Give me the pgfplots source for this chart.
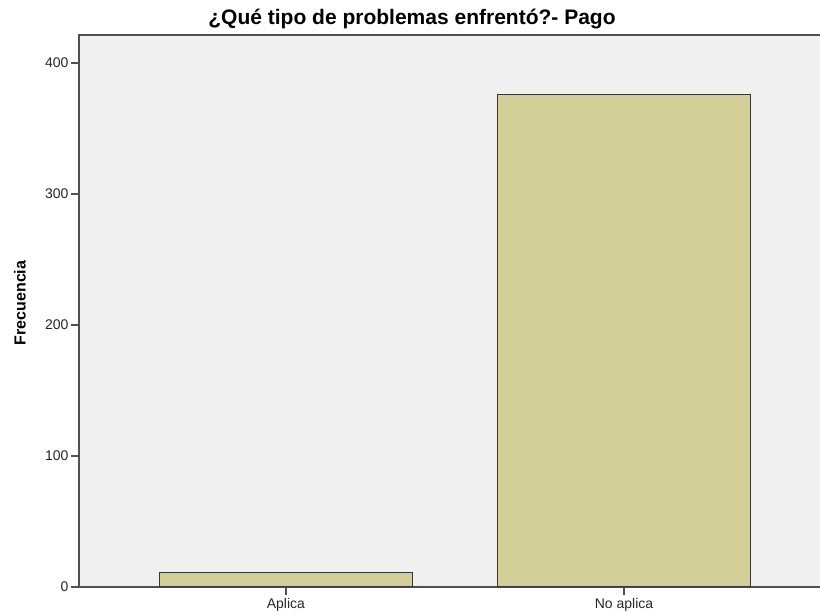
\documentclass[border=0pt]{standalone}
\usepackage{pgfplots}
\pgfplotsset{compat=1.18}
\usepackage{fontspec}
\setmainfont{Liberation Sans}
\definecolor{plotbg}{HTML}{F0F0F0}
\definecolor{barfill}{HTML}{D3CE98}
\definecolor{baredge}{HTML}{383838}
\definecolor{framegray}{HTML}{505050}

\begin{document}
\begin{tikzpicture}
\useasboundingbox (0pt,0pt) rectangle (820pt,616pt);
\clip (0pt,0pt) rectangle (820pt,616pt);
\begin{axis}[
    at={(79pt,29pt)}, anchor=south west,
    scale only axis, width=752pt, height=552pt,
    xmin=-0.612, xmax=1.612,
    ymin=0, ymax=421.4,
    ybar, bar width=253pt,
    axis background/.style={fill=plotbg},
    axis line style={draw=framegray, line width=1.3pt},
    xtick={0,1}, xticklabels={Aplica,No aplica},
    ytick={0,100,200,300,400},
    tick pos=left, tick align=outside,
    major tick length=8pt,
    tick style={draw=framegray, line width=1.3pt},
    /pgf/number format/assume math mode=true,
    yticklabel style={font=\fontsize{14}{14}\selectfont, text=black!85, xshift=1pt},
    xticklabel style={font=\fontsize{14}{14}\selectfont, text=black!85},
    ylabel={Frecuencia},
    ylabel style={font=\bfseries\fontsize{16}{16}\selectfont,
                  at={(axis description cs:0,0.5)}, anchor=center,
                  yshift=59pt, xshift=8pt},
]
\addplot[fill=barfill, draw=baredge, line width=1.4pt]
    coordinates {(0,11) (1,376)};
\end{axis}
\node[font=\bfseries\fontsize{21}{21}\selectfont] at (412pt,597pt) {¿Qué tipo de problemas enfrentó?- Pago};
\end{tikzpicture}
\end{document}
